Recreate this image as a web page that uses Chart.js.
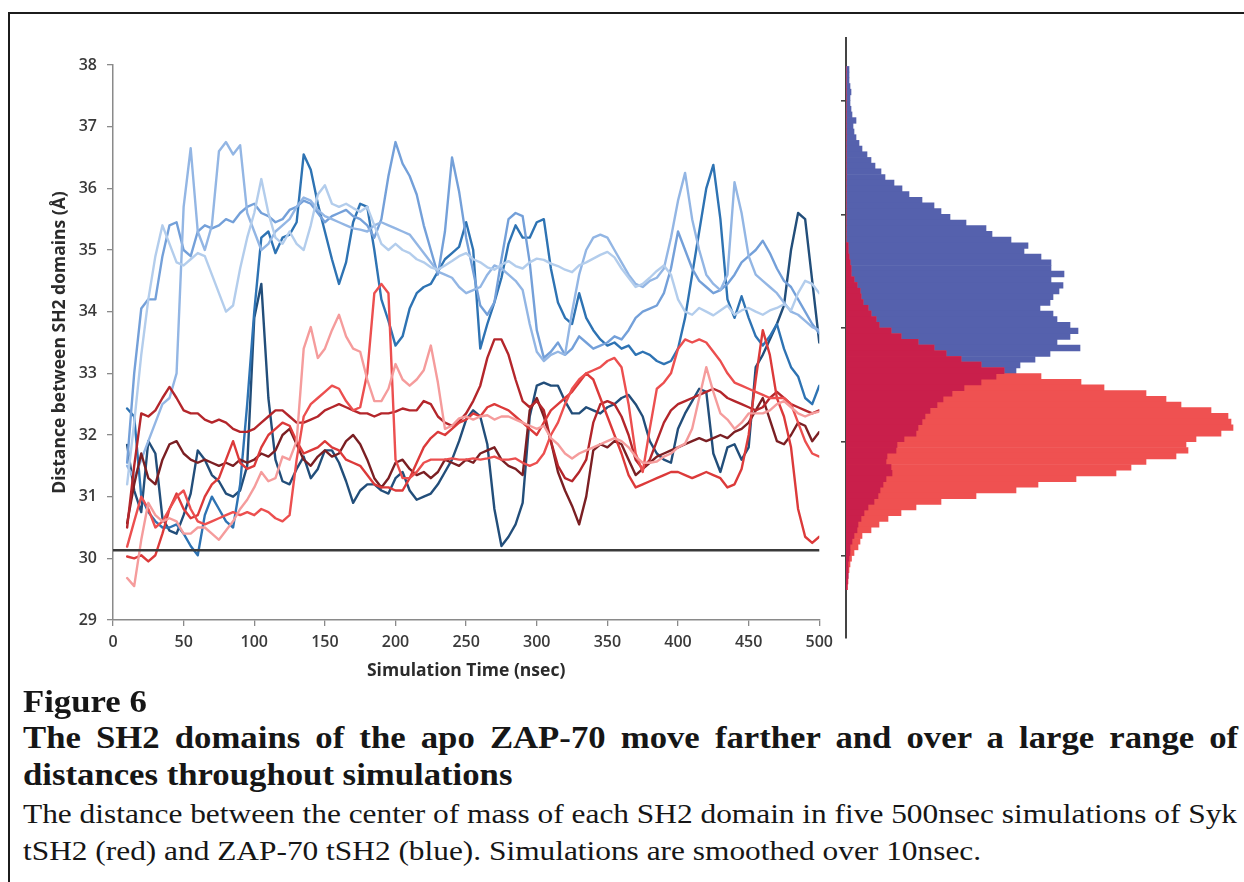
<!DOCTYPE html>
<html>
<head>
<meta charset="utf-8">
<script src="https://cdn.jsdelivr.net/npm/chart.js@4.4.1/dist/chart.umd.min.js"></script>
<style>
  html, body { margin: 0; padding: 0; background: #ffffff; }
  body { width: 1244px; height: 882px; position: relative; overflow: hidden; }
  #frame { position: absolute; left: 8px; top: 12px; width: 1400px; height: 1000px;
           border-left: 2px solid #1c1c1c; border-top: 2px solid #1c1c1c; }
  #traceBox { position: absolute; left: 0; top: 0; width: 840px; height: 700px; }
  #histBox  { position: absolute; left: 800px; top: 0; width: 444px; height: 700px; }
  .cap { position: absolute; left: 23px; font-family: "Liberation Serif", "Times New Roman", serif;
         color: #161616; line-height: 1; white-space: nowrap; transform-origin: 0 0; transform: scaleX(1.12); }
  .b { font-weight: bold; font-size: 31px; }
  .n { font-size: 28px; }
  .just { white-space: normal; width: 1085px; text-align: justify; text-align-last: justify; }
</style>
</head>
<body>
<div id="frame"></div>
<div id="traceBox"><canvas id="traces" width="840" height="700"></canvas></div>
<div id="histBox"><canvas id="hist" width="444" height="700"></canvas></div>

<div class="cap b" style="top:686px">Figure 6</div>
<div class="cap b just" style="top:722px">The SH2 domains of the apo ZAP-70 move farther and over a large range of</div>
<div class="cap b" style="top:759px">distances throughout simulations</div>
<div class="cap n" style="top:800px">The distance between the center of mass of each SH2 domain in five 500nsec simulations of Syk</div>
<div class="cap n" style="top:837px">tSH2 (red) and ZAP-70 tSH2 (blue). Simulations are smoothed over 10nsec.</div>

<script>
// Sample times (nsec) of the smoothed distance traces
const timeNs = [
  10,15,20,25,30,35,40,45,50,55, 60,65,70,75,80,85,90,95,100,105,
  110,115,120,125,130,135,140,145,150,155, 160,165,170,175,180,185,190,195,200,205,
  210,215,220,225,230,235,240,245,250,255, 260,265,270,275,280,285,290,295,300,305,
  310,315,320,325,330,335,340,345,350,355, 360,365,370,375,380,385,390,395,400,405,
  410,415,420,425,430,435,440,445,450,455, 460,465,470,475,480,485,490,495,500
];

// ZAP-70 tSH2 runs (blue), distance in Å
const zapRun1 = [
  31.2,32.2,33.3,34.2,34.9,35.4,35.1,34.8,34.75,34.85,
  34.95,34.9,34.6,34.3,34.0,34.1,34.7,35.2,35.6,36.15,
  35.6,35.2,35.1,35.3,35.1,35.0,35.4,35.9,36.05,35.75,
  35.7,35.75,35.68,35.62,35.7,35.4,35.1,35.0,35.1,35.0,
  34.95,34.85,34.8,34.72,34.68,34.75,34.82,34.9,34.95,34.85,
  34.8,34.72,34.68,34.76,34.82,34.74,34.7,34.8,34.86,34.84,
  34.78,34.74,34.68,34.64,34.75,34.8,34.86,34.92,34.97,34.88,
  34.7,34.55,34.4,34.45,34.55,34.66,34.75,34.6,34.2,34.0,
  33.95,34.06,34.0,33.94,34.02,34.1,33.95,34.02,34.06,34.0,
  33.95,34.02,34.06,34.12,34.02,34.3,34.5,34.45,34.3
];
const zapRun2 = [
  31.5,31.3,31.6,31.9,32.2,32.5,32.6,33.0,35.7,36.65,
  35.3,35.0,35.4,36.6,36.75,36.55,36.7,35.6,35.3,35.0,
  35.1,35.3,35.4,35.5,35.7,35.85,35.8,35.65,35.55,35.5,
  35.45,35.4,35.35,35.33,35.3,35.4,35.45,35.4,35.35,35.3,
  35.25,35.1,34.95,34.8,34.65,34.6,34.55,34.4,34.3,34.35,
  34.4,34.6,34.75,34.7,34.6,34.5,34.35,33.8,33.35,33.2,
  33.3,33.35,33.3,34.0,34.6,35.0,35.2,35.25,35.2,35.0,
  34.8,34.6,34.45,34.4,34.5,34.55,34.7,35.2,35.8,36.25,
  35.5,35.0,34.6,34.45,34.35,34.6,36.1,35.6,34.9,34.6,
  34.5,34.4,34.3,34.15,34.0,33.95,33.85,33.75,33.7
];
const zapRun3 = [
  31.55,33.0,34.05,34.2,34.2,34.9,35.4,35.45,35.0,34.9,
  35.3,35.4,35.35,35.4,35.5,35.45,35.6,35.7,35.75,35.6,
  35.55,35.45,35.5,35.65,35.7,35.8,35.75,35.6,35.45,35.55,
  35.6,35.65,35.55,35.5,35.4,35.2,35.5,36.2,36.75,36.4,
  36.2,35.9,35.4,35.0,34.6,35.3,36.5,35.95,35.2,34.65,
  34.1,33.95,34.15,34.85,35.5,35.6,35.55,34.8,33.7,33.25,
  33.35,33.5,33.3,33.4,33.6,33.5,33.4,33.45,33.5,33.6,
  33.55,33.7,33.9,34.0,34.05,34.1,34.3,34.7,35.3,35.0,
  34.7,34.5,34.4,34.3,34.35,34.45,34.6,34.8,34.9,35.0,
  35.15,34.95,34.7,34.5,34.4,34.2,34.0,33.8,33.65
];
const zapRun4 = [
  32.43,32.3,31.0,30.75,30.6,30.5,30.5,30.55,30.4,30.2,
  30.05,30.7,31.0,30.8,30.6,30.5,31.2,32.5,34.0,35.2,
  35.3,34.95,35.2,35.25,35.45,36.55,36.3,35.75,35.3,34.85,
  34.45,34.8,35.45,35.75,35.7,35.0,34.2,33.85,33.45,33.6,
  34.05,34.3,34.4,34.45,34.65,34.85,34.95,35.05,35.45,35.0,
  33.4,33.8,34.15,34.55,35.1,35.4,35.2,35.2,35.45,35.5,
  34.7,34.15,33.9,33.8,34.3,33.9,33.7,33.55,33.45,33.5,
  33.4,33.45,33.3,33.35,33.3,33.2,33.15,33.2,33.4,33.9,
  34.6,35.3,36.0,36.38,35.5,34.2,33.9,34.25,33.9,33.6,
  33.45,33.6,33.8,33.4,33.1,32.95,32.6,32.5,32.8
];
const zapRun5 = [
  31.84,31.1,30.75,31.9,31.7,30.65,30.45,30.4,30.7,31.05,
  31.75,31.6,31.35,31.25,31.05,31.0,31.1,31.5,33.9,34.45,
  32.6,31.6,31.25,31.2,31.45,31.65,31.3,31.45,31.75,31.75,
  31.55,31.25,30.9,31.1,31.2,31.2,31.1,31.05,31.3,31.4,
  31.1,30.95,31.0,31.05,31.2,31.4,31.6,31.9,32.25,32.4,
  32.3,31.85,30.8,30.2,30.35,30.55,30.9,32.3,32.8,32.85,
  32.8,32.8,32.55,32.35,32.35,32.45,32.4,32.35,32.45,32.5,
  32.6,32.65,32.5,32.3,31.9,31.7,31.6,31.55,32.1,32.35,
  32.55,32.75,32.7,31.7,31.4,31.8,31.85,31.6,31.8,33.1,
  33.3,33.55,33.8,34.1,35.0,35.6,35.5,34.5,33.5
];

// Syk tSH2 runs (red), distance in Å
const sykRun1 = [
  29.68,29.55,30.3,30.9,30.7,30.6,30.65,30.6,30.4,30.4,
  30.5,30.5,30.4,30.3,30.45,30.6,30.8,30.95,31.15,31.4,
  31.25,31.3,31.65,31.6,31.9,33.4,33.75,33.25,33.4,33.7,
  33.95,33.6,33.4,33.35,32.9,32.55,32.55,32.75,33.15,32.9,
  32.8,32.9,33.05,33.45,32.85,32.1,32.15,32.27,32.3,32.25,
  32.3,32.32,32.25,32.3,32.3,32.25,32.2,32.15,32.1,32.15,
  31.95,31.85,31.7,31.62,31.7,31.75,31.8,31.85,31.9,31.95,
  31.9,31.8,31.65,31.55,31.55,31.57,31.65,31.7,31.8,31.86,
  32.1,32.6,33.1,32.7,32.35,32.25,32.1,32.2,32.35,32.35,
  32.35,32.4,32.5,32.55,32.45,32.35,32.3,32.35,32.38
];
const sykRun2 = [
  30.19,30.6,31.0,30.8,30.5,30.6,30.8,31.0,31.1,30.8,
  30.6,30.55,30.6,30.65,30.7,30.75,30.7,30.75,30.7,30.8,
  30.75,30.65,30.6,30.7,31.6,32.3,32.5,32.6,32.7,32.8,
  32.75,32.55,32.4,32.45,33.0,34.3,34.45,34.3,31.6,31.3,
  31.3,31.4,31.55,31.6,31.6,31.6,31.62,31.6,31.6,31.62,
  31.6,31.62,31.65,31.6,31.6,31.62,31.55,31.5,31.55,31.7,
  32.0,32.2,32.5,32.75,32.9,33.0,33.05,33.1,33.2,33.25,
  33.1,32.5,31.7,31.4,32.1,32.75,32.85,33.0,33.4,33.55,
  33.5,33.55,33.5,33.35,33.2,33.0,32.85,32.8,32.75,32.7,
  32.65,32.6,32.6,32.6,32.5,32.2,31.9,31.7,31.65
];
const sykRun3 = [
  30.03,30.0,30.05,29.95,30.05,30.4,30.8,31.05,30.8,30.65,
  30.7,31.0,31.2,31.3,31.6,31.9,31.55,31.45,31.5,31.8,
  32.0,32.1,32.2,32.15,31.9,31.7,31.75,31.8,31.9,31.8,
  31.75,31.6,31.55,31.5,31.35,31.2,31.15,31.15,31.1,31.1,
  31.3,31.55,31.8,31.95,32.05,32.0,32.1,32.2,32.25,32.35,
  32.3,32.45,32.5,32.45,32.4,32.3,32.2,32.1,32.0,32.2,
  32.4,32.5,32.6,32.7,32.85,33.0,32.9,32.6,32.3,32.0,
  31.7,31.35,31.15,31.2,31.25,31.3,31.35,31.4,31.4,31.35,
  31.3,31.35,31.4,31.35,31.3,31.15,31.2,31.45,32.0,32.9,
  33.7,33.3,32.6,32.3,31.8,30.8,30.35,30.25,30.35
];
const sykRun4 = [
  30.5,31.5,32.35,32.3,32.4,32.6,32.78,32.6,32.4,32.35,
  32.35,32.25,32.2,32.25,32.2,32.1,32.05,32.05,32.1,32.2,
  32.3,32.4,32.4,32.3,32.2,32.2,32.25,32.3,32.4,32.45,
  32.5,32.45,32.4,32.35,32.35,32.3,32.35,32.35,32.38,32.43,
  32.4,32.4,32.55,32.5,32.3,32.2,32.15,32.22,32.35,32.55,
  32.8,33.25,33.55,33.55,33.3,32.9,32.55,32.45,32.55,32.4,
  31.9,31.5,31.3,31.25,31.4,31.6,32.2,32.5,32.55,32.5,
  32.3,32.0,31.6,31.45,31.6,31.9,32.2,32.4,32.5,32.55,
  32.6,32.65,32.7,32.75,32.7,32.6,32.55,32.5,32.45,32.4,
  32.45,32.6,32.7,32.6,32.5,32.45,32.4,32.35,32.4
];
const sykRun5 = [
  30.57,31.2,31.7,31.3,31.2,31.6,31.85,31.9,31.7,31.6,
  31.55,31.6,31.55,31.5,31.55,31.5,31.6,31.55,31.6,31.7,
  31.65,31.75,32.0,32.1,31.85,31.6,31.5,31.65,31.75,31.65,
  31.7,31.9,32.0,31.85,31.6,31.3,31.15,31.3,31.55,31.6,
  31.45,31.35,31.4,31.3,31.4,31.6,31.55,31.5,31.6,31.55,
  31.7,31.75,31.8,31.6,31.5,31.45,31.35,32.4,32.6,32.3,
  31.9,31.4,31.1,30.85,30.55,31.0,31.75,31.85,31.8,31.9,
  31.85,31.6,31.35,31.45,31.55,31.65,31.7,31.75,31.8,31.85,
  31.9,31.95,31.9,31.95,32.0,31.95,32.05,32.1,32.2,32.4,
  32.6,32.25,31.9,31.85,32.0,32.2,32.15,31.9,32.05
];

// Horizontal reference distance (Å) drawn across the run
const referenceDistance = 30.13;
const referenceSpan = [0, 500];

// Axis tick values
const timeTicks = [0, 50, 100, 150, 200, 250, 300, 350, 400, 450, 500];
const distanceTicks = [29, 30, 31, 32, 33, 34, 35, 36, 37, 38];

// Distance histogram: bin centers (Å, 0.1 Å bins) and counts per run family
const histBins = [
  38.55,38.45,38.35,38.25,38.15,38.05,37.95,37.85,37.75,37.65,
  37.55,37.45,37.35,37.25,37.15,37.05,36.95,36.85,36.75,36.65,
  36.55,36.45,36.35,36.25,36.15,36.05,35.95,35.85,35.75,35.65,
  35.55,35.45,35.35,35.25,35.15,35.05,34.95,34.85,34.75,34.65,
  34.55,34.45,34.35,34.25,34.15,34.05,33.95,33.85,33.75,33.65,
  33.55,33.45,33.35,33.25,33.15,33.05,32.95,32.85,32.75,32.65,
  32.55,32.45,32.35,32.25,32.15,32.05,31.95,31.85,31.75,31.65,
  31.55,31.45,31.35,31.25,31.15,31.05,30.95,30.85,30.75,30.65,
  30.55,30.45,30.35,30.25,30.15,30.05,29.95,29.85,29.75,29.65,
  29.55,29.45
];
const zapHistCounts = [
  3,3,3,4,5,4,4,5,6,10,
  7,8,10,13,16,21,25,29,35,39,
  48,56,63,76,88,95,104,120,140,146,
  165,182,178,195,205,205,218,205,217,213,
  207,204,194,207,211,224,232,224,211,234,
  204,189,174,170,150,135,118,106,97,91,
  84,79,76,72,70,58,51,50,41,40,
  45,46,40,37,34,32,28,22,18,15,
  12,11,8,6,4,4,3,2,2,2,
  1.5,1
];
const sykHistCounts = [
  0,0,0,0,0,0,0,0,0,0,
  0,0,0,0,0,0,0,0,0,0,
  0,0,0,0,0,0,0,0,0,0,
  0,2,2,3,4,5,5,8,11,14,
  15,17,22,25,30,33,45,55,72,88,
  100,115,135,158,195,235,258,300,320,335,
  365,382,385,387,375,350,340,342,330,300,
  285,270,230,192,170,130,95,70,55,42,
  33,25,16,14,12,8,5.5,4,3,2,
  2,1.5
];
const histTicks = [30, 32, 34, 36, 38];

const zapColors = ['#b3cdec', '#93b6e4', '#74a0d9', '#2e73b3', '#224e7a'];
const sykColors = ['#f59c9c', '#ec4f4f', '#dc3a3a', '#b4262b', '#7b1f23'];

const toPoints = vals => vals.map((v, i) => ({ x: timeNs[i], y: v }));
const trace = (vals, color) => ({
  data: toPoints(vals), borderColor: color, backgroundColor: color,
  borderWidth: 2.4, pointRadius: 0, tension: 0, fill: false
});

const datasets = [
  { data: referenceSpan.map(t => ({ x: t, y: referenceDistance })),
    borderColor: '#3a3a3a', borderWidth: 2.6, pointRadius: 0, fill: false },
  ...[sykRun1, sykRun2, sykRun3, sykRun4, sykRun5].map((r, i) => trace(r, sykColors[i])),
  ...[zapRun1, zapRun2, zapRun3, zapRun4, zapRun5].map((r, i) => trace(r, zapColors[i]))
];

const labelFont = { family: 'Open Sans', size: 16, weight: '600' };
const titleFont = { family: 'Open Sans', size: 17.5, weight: 'bold' };

new Chart(document.getElementById('traces'), {
  type: 'line',
  data: { datasets },
  options: {
    responsive: false, animation: false, devicePixelRatio: 1, events: [],
    layout: { padding: { left: 46, top: 65, right: 18, bottom: 14 } },
    plugins: { legend: { display: false }, tooltip: { enabled: false } },
    elements: { line: { borderCapStyle: 'round', borderJoinStyle: 'round' } },
    scales: {
      x: {
        type: 'linear', min: 0, max: 500,
        afterBuildTicks: s => { s.ticks = timeTicks.map(v => ({ value: v })); },
        afterFit: s => { s.height = 66; },
        grid: { drawOnChartArea: false, drawTicks: true, tickLength: 6, color: '#8a8a8a', lineWidth: 1.3 },
        border: { display: true, color: '#8a8a8a', width: 1.5 },
        ticks: { padding: 7, color: '#3a3a3a', font: labelFont, maxRotation: 0, autoSkip: false },
        title: { display: true, text: 'Simulation Time (nsec)', color: '#2b2b2b', font: titleFont,
                 padding: { top: 4, bottom: 4 } }
      },
      y: {
        type: 'linear', min: 29, max: 38,
        afterBuildTicks: s => { s.ticks = distanceTicks.map(v => ({ value: v })); },
        afterFit: s => { s.width = 67; },
        grid: { drawOnChartArea: false, drawTicks: true, tickLength: 6, color: '#8a8a8a', lineWidth: 1.3 },
        border: { display: true, color: '#8a8a8a', width: 1.5 },
        ticks: { padding: 10, color: '#3a3a3a', font: labelFont, autoSkip: false },
        title: { display: true, text: 'Distance between SH2 domains (Å)', color: '#2b2b2b', font: titleFont,
                 padding: { top: 4, bottom: 4 } }
      }
    }
  }
});

// Overlap of the two distributions is drawn in its own blended colour
const histData = counts => histBins.map((b, i) => ({ x: counts[i], y: b }));
const overlapCounts = zapHistCounts.map((c, i) => Math.min(c, sykHistCounts[i]));

new Chart(document.getElementById('hist'), {
  type: 'bar',
  data: {
    datasets: [
      { label: 'overlap', data: histData(overlapCounts), backgroundColor: '#c91f4b' },
      { label: 'Syk tSH2', data: histData(sykHistCounts), backgroundColor: '#ef5151' },
      { label: 'ZAP-70 tSH2', data: histData(zapHistCounts), backgroundColor: '#5561ad' }
    ]
  },
  options: {
    indexAxis: 'y', responsive: false, animation: false, devicePixelRatio: 1, events: [],
    layout: { padding: { left: 0, right: 0, top: 38, bottom: 62 } },
    datasets: { bar: { grouped: false, barPercentage: 1, categoryPercentage: 1, borderWidth: 0 } },
    plugins: { legend: { display: false }, tooltip: { enabled: false } },
    scales: {
      x: { type: 'linear', display: false, min: 0, max: 398, offset: false },
      y: {
        type: 'linear', min: 28.55, max: 39.1, z: 1, offset: false,
        afterBuildTicks: s => { s.ticks = histTicks.map(v => ({ value: v })); },
        afterFit: s => { s.width = 46; },
        ticks: { display: false },
        grid: { offset: false, drawOnChartArea: false, drawTicks: true, tickLength: 5, color: '#444444', lineWidth: 1.6 },
        border: { display: true, color: '#444444', width: 2 }
      }
    }
  }
});
</script>
</body>
</html>
